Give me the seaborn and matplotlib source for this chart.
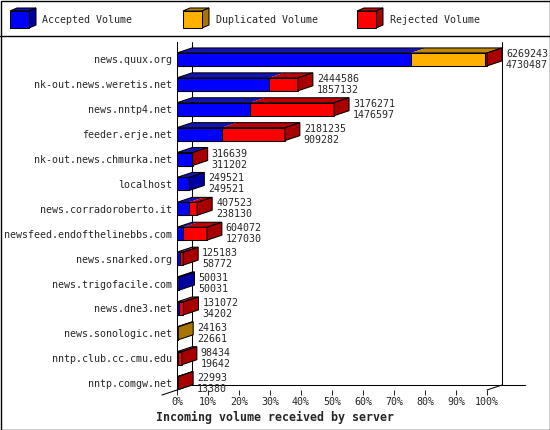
import numpy as np
import pandas as pd
import seaborn as sns
import matplotlib.pyplot as plt
from matplotlib.patches import Polygon, Rectangle

servers = ['news.quux.org', 'nk-out.news.weretis.net', 'news.nntp4.net', 'feeder.erje.net',
           'nk-out.news.chmurka.net', 'localhost', 'news.corradoroberto.it',
           'newsfeed.endofthelinebbs.com', 'news.snarked.org', 'news.trigofacile.com',
           'news.dne3.net', 'news.sonologic.net', 'nntp.club.cc.cmu.edu', 'nntp.comgw.net']
total = [6269243, 2444586, 3176271, 2181235, 316639, 249521, 407523,
         604072, 125183, 50031, 131072, 24163, 98434, 22993]
accepted = [4730487, 1857132, 1476597, 909282, 311202, 249521, 238130,
            127030, 58772, 50031, 34202, 22661, 19642, 13380]
duplicated = [1500756, 0, 0, 0, 0, 0, 0, 0, 0, 0, 0, 1502, 0, 0]
pct_ticks = list(range(0, 101, 10))

# front / top / side shades
BLUE = ['#0000ff', '#1414b4', '#0000a0']
ORANGE = ['#ffb000', '#c08800', '#a87400']
RED = ['#ff0000', '#c00000', '#a80000']

sns.set_style('white')
plt.rcParams['font.family'] = ['DejaVu Sans Mono']
FS = 7.2

scale = 100.0 / max(total)
df = pd.DataFrame({
    'server': servers,
    'acc': [a * scale for a in accepted],
    'accdup': [(a + d) * scale for a, d in zip(accepted, duplicated)],
    'tot': [t * scale for t in total],
})

fig = plt.figure(figsize=(5.5, 4.3), dpi=100)
fig.patch.set_facecolor('white')
ax = fig.add_axes([177 / 550, 40 / 430, 348 / 550, 348 / 430])

W = 0.52
for col, c in [('tot', RED), ('accdup', ORANGE), ('acc', BLUE)]:
    sns.barplot(data=df, x=col, y='server', color=c[0], saturation=1, width=W,
                edgecolor='black', linewidth=0.75, ax=ax, zorder=3)

xmax = 348 / 3.1
ybot, ytop = 13.276, -0.70
ax.set_xlim(0, xmax)
ax.set_ylim(ybot, ytop)
DX = 15 / 3.1
DY = 5 / 24.9

# box walls
yf = ybot - DY
ax.plot([DX, DX], [ytop, yf], color='black', lw=0.75, zorder=1)
ax.plot([DX, xmax], [yf, yf], color='black', lw=0.75, zorder=1, clip_on=False)
ax.plot([100 + DX, 100 + DX], [ytop, yf], color='black', lw=0.75, zorder=1)
ax.plot([-DX, DX], [ybot + DY, yf], color='black', lw=0.75, zorder=1, clip_on=False)
ax.plot([100, 100 + DX], [ybot, yf], color='black', lw=0.75, zorder=1, clip_on=False)

# 3D top and side faces
for i, row in df.iterrows():
    yt, yb = i - W / 2, i + W / 2
    segs = [(0, row.acc, BLUE), (row.acc, row.accdup, ORANGE), (row.accdup, row.tot, RED)]
    segs = [s for s in segs if s[1] - s[0] > 1e-9]
    for x0, x1, c in segs:
        ax.add_patch(Polygon([(x0, yt), (x1, yt), (x1 + DX, yt - DY), (x0 + DX, yt - DY)],
                             facecolor=c[1], edgecolor='none', zorder=3))
    xe = row.tot
    ax.add_patch(Polygon([(0, yt), (xe, yt), (xe + DX, yt - DY), (DX, yt - DY)],
                         facecolor='none', edgecolor='black', lw=0.75, zorder=4))
    ax.add_patch(Polygon([(xe, yt), (xe + DX, yt - DY), (xe + DX, yb - DY), (xe, yb)],
                         facecolor=segs[-1][2][2], edgecolor='black', lw=0.75, zorder=4,
                         clip_on=False))
    tx = xe + DX + 4 / 3.1
    ax.text(tx, i - 0.22, str(total[i]), fontsize=FS, va='center', ha='left', zorder=5)
    ax.text(tx, i + 0.22, str(accepted[i]), fontsize=FS, va='center', ha='left', zorder=5)

ax.set_xticks(pct_ticks)
ax.set_xticklabels([f'{p}%' for p in pct_ticks], fontsize=FS)
ax.set_yticks(range(len(servers)))
ax.set_yticklabels(servers, fontsize=FS)
ax.tick_params(axis='x', length=3.6, width=0.75, pad=1.5, direction='out', bottom=True)
ax.tick_params(axis='y', length=0, pad=3.6)
ax.set_xlabel('')
ax.set_ylabel('')
for s in ['top', 'right', 'bottom']:
    ax.spines[s].set_visible(False)
ax.spines['left'].set_linewidth(0.75)
ax.spines['left'].set_color('black')
ax.patch.set_visible(False)

fig.text(0.5, 1 - 417 / 430, 'Incoming volume received by server', ha='center', va='center',
         fontsize=8.4, fontweight='bold')

# legend strip and frame
lg = fig.add_axes([0, 0, 1, 1])
lg.set_xlim(0, 550)
lg.set_ylim(430, 0)
lg.axis('off')
lg.patch.set_visible(False)
lg.add_patch(Rectangle((0.5, 0.5), 549, 429, fill=False, edgecolor='black', lw=1.0))
lg.plot([0, 550], [35.5, 35.5], color='black', lw=1.0)
for x0, label, c in [(10, 'Accepted Volume', BLUE), (183, 'Duplicated Volume', ORANGE),
                     (357, 'Rejected Volume', RED)]:
    lg.add_patch(Polygon([(x0, 11), (x0 + 19, 11), (x0 + 26, 8), (x0 + 7, 8)],
                         facecolor=c[1], edgecolor='black', lw=0.75))
    lg.add_patch(Polygon([(x0 + 19, 11), (x0 + 26, 8), (x0 + 26, 25), (x0 + 19, 28)],
                         facecolor=c[2], edgecolor='black', lw=0.75))
    lg.add_patch(Rectangle((x0, 11), 19, 17, facecolor=c[0], edgecolor='black', lw=0.75))
    lg.text(x0 + 32.5, 20, label, fontsize=FS, va='center', ha='left')

fig.savefig('out.png', dpi=100)
